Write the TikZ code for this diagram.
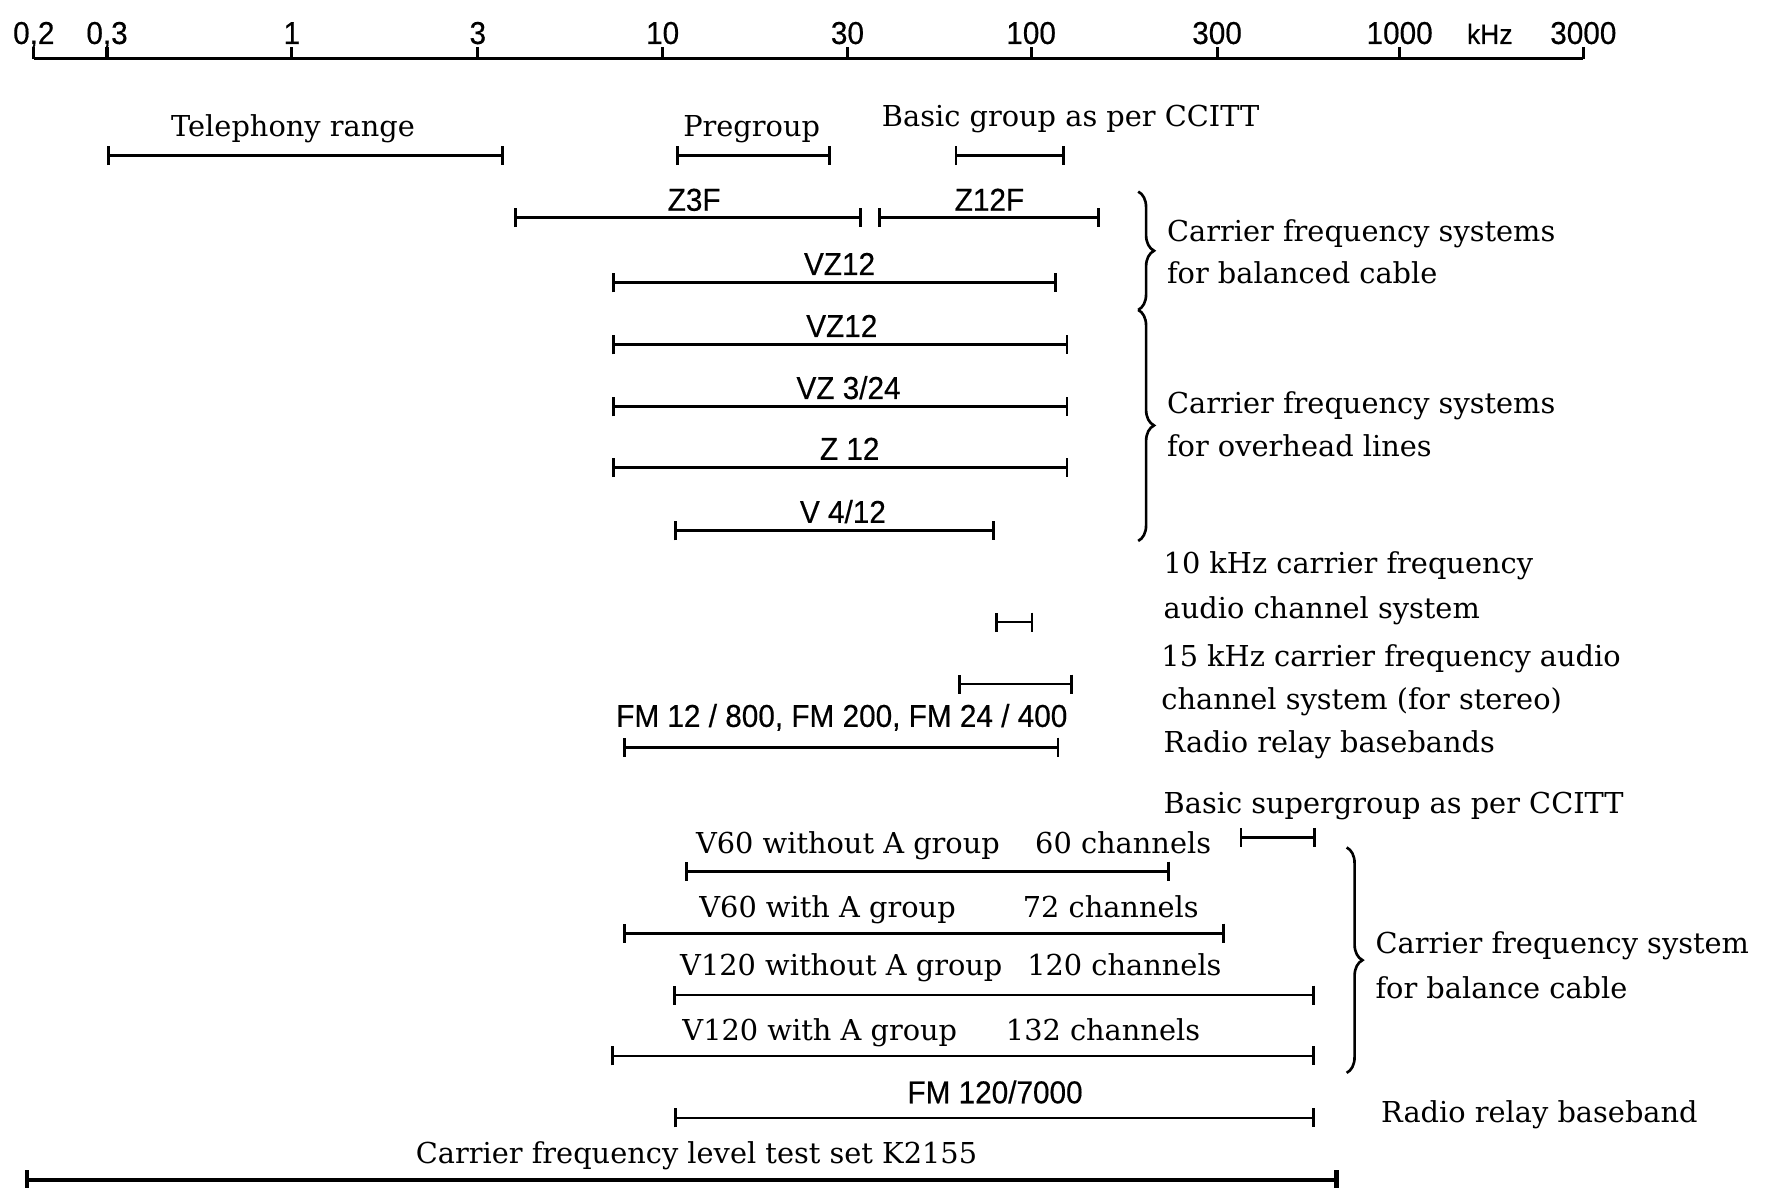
\documentclass[tikz,border=0pt]{standalone}
\usepackage{fontspec}
\setmainfont{DejaVu Serif}
\newfontfamily\condsans[FakeStretch=0.94, FakeBold=0.4]{Liberation Sans}
\usetikzlibrary{arrows.meta, decorations.pathreplacing}

\begin{document}
\begin{tikzpicture}[
    x=0.1127mm, y=-0.1127mm,
    desc/.style={font=\fontsize{8.2}{9}\selectfont, anchor=base west, inner sep=0pt},
    syslbl/.style={font=\condsans\fontsize{9}{10}\selectfont, anchor=base, inner sep=0pt},
    band/.style={{Bar[width=1.9mm]}-{Bar[width=1.9mm]}, line width=0.8pt},
    grp/.style={decorate, decoration={brace, amplitude=4.5pt}, line width=0.75pt}
  ]
  \useasboundingbox (0,0) rectangle (1568,1054);

  % frequency axis, log scale
  \draw[line width=0.9pt] (30,52) -- (1405,52);
  \foreach \lbl/\xx [count=\i] in {0{,}2/30, 0{,}3/95, 1/259, 3/424, 10/588,
      30/752, 100/915, 300/1080, 1000/1242, 3000/1405} {
    \draw[line width=0.9pt] (\xx,52) -- (\xx,42);
    \node[syslbl] (tick\i) at (\xx,39) {\lbl};
  }
  \node[syslbl, font=\condsans\fontsize{8}{9}\selectfont] (khz) at (1322,39) {kHz};

  % reference ranges
  \draw[band] (95,138) -- (447,138);
  \node[desc, anchor=base] (tel) at (260,121) {Telephony range};
  \draw[band] (600,138) -- (737,138);
  \node[desc, anchor=base] (pre) at (667,121) {Pregroup};
  \draw[band] (847,138) -- (945,138);
  \node[desc] (bgrp) at (782,112) {Basic group as per CCITT};

  % balanced cable / overhead lines
  \draw[band] (456,193) -- (765,193);
  \node[syslbl] (z3f) at (616,187) {Z3F};
  \draw[band] (779,193) -- (976,193);
  \node[syslbl] (z12f) at (878,187) {Z12F};
  \draw[band] (543,251) -- (938,251);
  \node[syslbl] (vz12a) at (745,244) {VZ12};
  \draw[band] (543,306) -- (948,306);
  \node[syslbl] (vz12b) at (747,299) {VZ12};
  \draw[band] (543,361) -- (948,361);
  \node[syslbl] (vz324) at (753,354) {VZ 3/24};
  \draw[band] (543,415) -- (948,415);
  \node[syslbl] (z12) at (754,408) {Z 12};
  \draw[band] (598,471) -- (883,471);
  \node[syslbl] (v412) at (748,464) {V 4/12};

  \draw[grp] (1010,170) -- (1010,275);
  \draw[grp] (1010,275) -- (1010,480);
  \node[desc] (bal1) at (1035,214) {Carrier frequency systems};
  \node[desc] (bal2) at (1035,252) {for balanced cable};
  \node[desc] (ovh1) at (1035,367) {Carrier frequency systems};
  \node[desc] (ovh2) at (1035,405) {for overhead lines};

  % audio channel systems
  \node[desc] (ac10a) at (1032,509) {10 kHz carrier frequency};
  \node[desc] (ac10b) at (1032,549) {audio channel system};
  \draw[band] (883,552) -- (917,552);
  \node[desc] (ac15a) at (1030,591) {15 kHz carrier frequency audio};
  \node[desc] (ac15b) at (1030,630) {channel system (for stereo)};
  \draw[band] (850,607) -- (952,607);

  % radio relay
  \node[desc] (rrb) at (1032,668) {Radio relay basebands};
  \draw[band] (553,663) -- (940,663);
  \node[syslbl] (fm) at (747,645) {FM 12 / 800, FM 200, FM 24 / 400};

  % supergroup systems
  \node[desc] (sgrp) at (1032,722) {Basic supergroup as per CCITT};
  \draw[band] (1100,743) -- (1168,743);
  \draw[band] (608,773) -- (1038,773);
  \node[desc] (v60a) at (617,757) {V60 without A group};
  \node[desc] (v60ac) at (918,757) {60 channels};
  \draw[band] (553,828) -- (1087,828);
  \node[desc] (v60b) at (620,814) {V60 with A group};
  \node[desc] (v60bc) at (907,814) {72 channels};
  \draw[band] (597,883) -- (1167,883);
  \node[desc] (v120a) at (603,866) {V120 without A group};
  \node[desc] (v120ac) at (911,866) {120 channels};
  \draw[band] (542,937) -- (1167,937);
  \node[desc] (v120b) at (605,923) {V120 with A group};
  \node[desc] (v120bc) at (892,923) {132 channels};

  \draw[grp] (1195,752) -- (1195,952);
  \node[desc] (cab1) at (1220,846) {Carrier frequency system};
  \node[desc] (cab2) at (1220,886) {for balance cable};

  \draw[band] (598,992) -- (1167,992);
  \node[syslbl] (fm120) at (883,979) {FM 120/7000};
  \node[desc] (rrb1) at (1225,996) {Radio relay baseband};

  % level test set
  \draw[band, line width=1.3pt] (22,1047) -- (1188,1047);
  \node[desc, anchor=base] (k2155) at (618,1032) {Carrier frequency level test set K2155};
\end{tikzpicture}
\end{document}
